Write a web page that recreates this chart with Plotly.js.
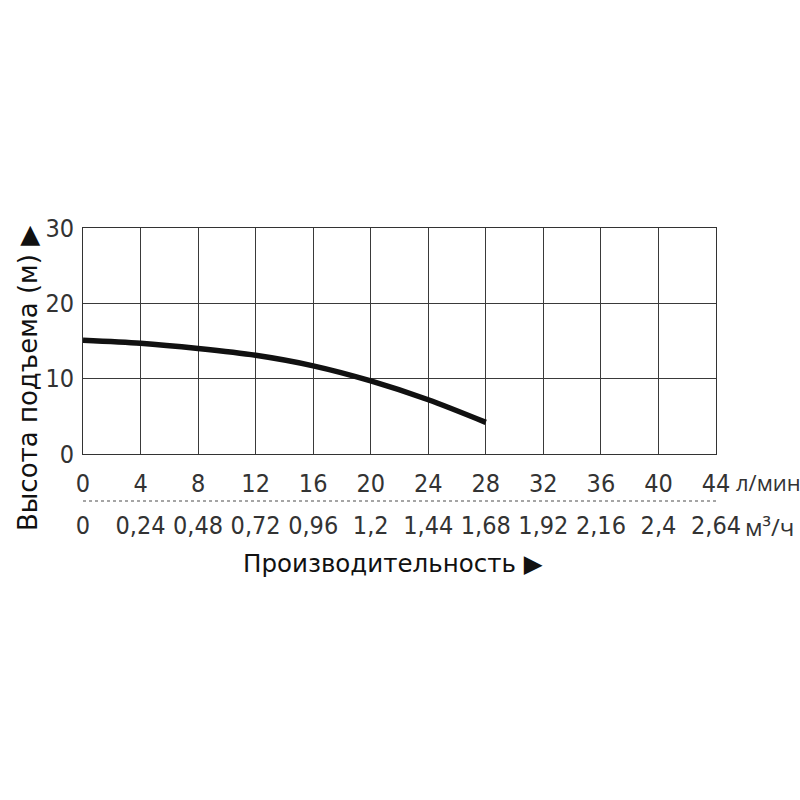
<!DOCTYPE html>
<html>
<head>
<meta charset="utf-8">
<script src="https://cdn.plot.ly/plotly-3.0.1.min.js"></script>
<style>html,body{margin:0;padding:0;background:#fff;}</style>
</head>
<body>
<div id="chart" style="width:800px;height:800px;"></div>
<script>
// Data
const flowLpm = [0, 4, 8, 12, 16, 20, 24, 28];
const headM = [15.1, 14.7, 14.0, 13.1, 11.7, 9.7, 7.2, 4.2];
const lpmTicks = [0, 4, 8, 12, 16, 20, 24, 28, 32, 36, 40, 44];
const m3hLabels = ["0", "0,24", "0,48", "0,72", "0,96", "1,2", "1,44", "1,68", "1,92", "2,16", "2,4", "2,64"];
const yTicks = [0, 10, 20, 30];
const xUnitTop = "л/мин";
const xUnitBottom = "м³/ч";
const xTitle = "Производительность ▶";
const yTitle = "Высота подъема (м) ▶";

const tickFont = {family: "DejaVu Sans Condensed, sans-serif", size: 25, color: "#333"};

const trace = {
  x: flowLpm, y: headM, type: "scatter", mode: "lines",
  line: {color: "#111", width: 5.5, shape: "spline", smoothing: 0.8},
  hoverinfo: "skip", showlegend: false
};
const trace2 = {x: lpmTicks, y: lpmTicks.map(() => null), xaxis: "x2", yaxis: "y", type: "scatter", mode: "lines", showlegend: false, hoverinfo: "skip"};

const H = 800 - 228 - 260;
const yDomLow = (540 - 454) / H;
const x2Pos = (540 - 501) / H;

const layout = {
  width: 800, height: 800,
  margin: {l: 83, r: 84, t: 228, b: 260},
  paper_bgcolor: "#fff", plot_bgcolor: "#fff",
  showlegend: false,
  xaxis: {
    range: [0, 44], tickvals: lpmTicks, ticktext: lpmTicks.map(String),
    showgrid: true, gridcolor: "#3a3a3a", gridwidth: 1,
    showline: true, linecolor: "#333", linewidth: 1, mirror: true,
    zeroline: false, ticks: "", tickfont: tickFont, ticklabelstandoff: 7,
    anchor: "y", fixedrange: true
  },
  xaxis2: {
    range: [0, 44], tickvals: lpmTicks, ticktext: m3hLabels,
    overlaying: "x", anchor: "free", position: x2Pos, side: "bottom",
    showgrid: false, showline: false, zeroline: false, ticks: "",
    tickfont: tickFont, ticklabelstandoff: 7, fixedrange: true
  },
  yaxis: {
    range: [0, 30], tickvals: yTicks, domain: [yDomLow, 1],
    showgrid: true, gridcolor: "#3a3a3a", gridwidth: 1,
    showline: true, linecolor: "#333", linewidth: 1, mirror: true,
    zeroline: false, ticks: "", tickfont: tickFont, ticklabelstandoff: 3,
    fixedrange: true
  },
  shapes: [{
    type: "line", xref: "x", yref: "paper", x0: 0, x1: 44, y0: x2Pos, y1: x2Pos,
    line: {color: "#888", width: 1.5, dash: "dot"}
  }],
  annotations: [
    {text: xUnitTop, xref: "paper", yref: "paper", x: 1.028, y: yDomLow - (482 - 454) / H,
     xanchor: "left", yanchor: "middle", showarrow: false,
     font: {family: "Open Sans, sans-serif", size: 22, color: "#333"}},
    {text: xUnitBottom, xref: "paper", yref: "paper", x: 1.043, y: (540 - 526) / H,
     xanchor: "left", yanchor: "middle", showarrow: false,
     font: {family: "Open Sans, sans-serif", size: 24, color: "#333"}},
    {text: xTitle, xref: "paper", yref: "paper", x: (393 - 83) / 633, y: -(563 - 540) / H,
     xanchor: "center", yanchor: "middle", showarrow: false,
     font: {family: "DejaVu Sans, sans-serif", size: 24.5, color: "#111"}},
    {text: yTitle, xref: "paper", yref: "paper", x: -(83 - 28) / 633, y: (540 - 379) / H,
     xanchor: "center", yanchor: "middle", showarrow: false, textangle: -90,
     font: {family: "DejaVu Sans, sans-serif", size: 26, color: "#111"}}
  ]
};

Plotly.newPlot("chart", [trace, trace2], layout, {staticPlot: true, displayModeBar: false});
</script>
</body>
</html>
